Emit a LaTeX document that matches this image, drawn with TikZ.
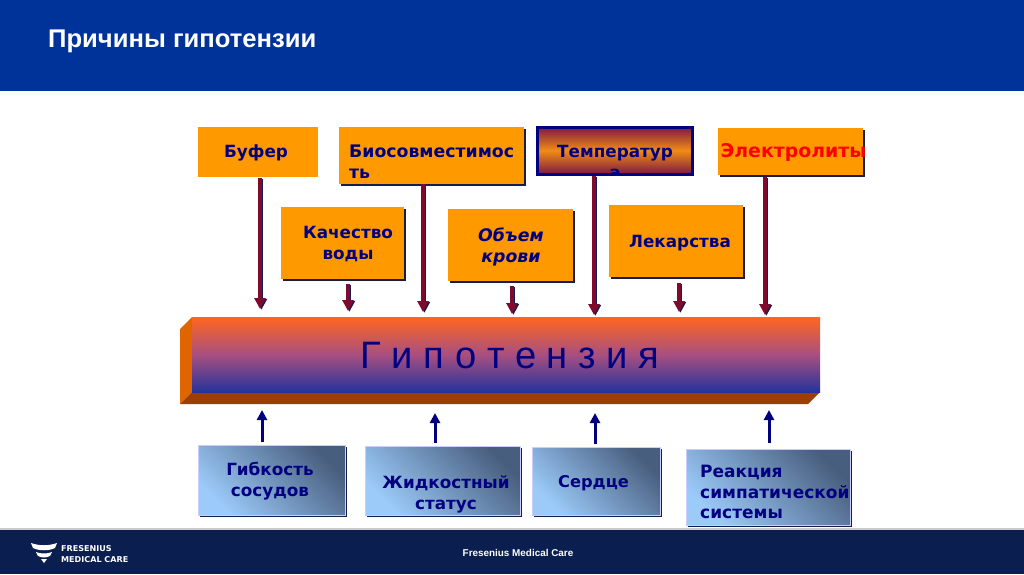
\documentclass[tikz,border=0pt]{standalone}
\usepackage{fontspec}
\setmainfont{Liberation Sans}
\newfontfamily\boxfont{DejaVu Sans}
\usetikzlibrary{arrows.meta,shadows}
\definecolor{hdr}{HTML}{003399}
\definecolor{ftr}{HTML}{0A1F4F}
\definecolor{orng}{HTML}{FF9900}
\definecolor{navy}{HTML}{000080}
\definecolor{shd}{HTML}{141E50}
\definecolor{crim}{HTML}{800A2E}
\definecolor{blue1}{HTML}{9CCBFA}
\definecolor{blue2}{HTML}{485E7E}
\definecolor{sideface}{HTML}{E06400}
\definecolor{lowface}{HTML}{994000}
\definecolor{bartop}{HTML}{FF6620}
\definecolor{barmid}{HTML}{A84F80}
\definecolor{barlow}{HTML}{24339C}
\definecolor{temptop}{HTML}{7D1941}
\definecolor{tempmid}{HTML}{F08C14}
\tikzset{
  x=1pt,y=-1pt,
  boxbase/.style={anchor=north west,inner sep=0pt,outer sep=0pt,draw=none},
  obox/.style={boxbase,fill=orng},
  oboxs/.style={obox,general shadow={shadow xshift=2pt,shadow yshift=-2pt,fill=shd}},
  bbox/.style={boxbase,draw=white!80!blue,line width=.6pt,left color=blue1,right color=blue2,shading angle=135,general shadow={shadow xshift=2pt,shadow yshift=-2pt,fill=shd}},
  lbl/.style={font=\boxfont\bfseries\fontsize{16.8}{21}\selectfont,text=navy,align=center,inner sep=0pt},
  lbll/.style={lbl,align=left,anchor=north west},
  redarrow/.style={line width=3.8pt,draw=crim,-{Triangle[width=11pt,length=11pt]},
     preaction={draw=shd,line width=3.8pt,-{Triangle[width=11pt,length=11pt]},transform canvas={xshift=1.4pt,yshift=-.8pt}}},
  bluearrow/.style={line width=3pt,draw=navy,-{Triangle[width=10pt,length=10pt]}},
}
\begin{document}
\begin{tikzpicture}
\useasboundingbox (0,0) rectangle (1024,574);
\fill[white] (0,0) rectangle (1024,574);
% header and footer
\node[boxbase,fill=hdr,minimum width=1024pt,minimum height=91pt] (header) at (0,0) {};
\node[anchor=west,inner sep=0pt,text=white,font=\bfseries\fontsize{25.6}{28}\selectfont] (title) at (48,41) {Причины гипотензии};
\fill[black!20] (0,528) rectangle (1024,530);
\node[boxbase,fill=ftr,minimum width=1024pt,minimum height=44pt] (footer) at (0,530) {};
\node[inner sep=0pt,text=white,font=\bfseries\fontsize{9.9}{11}\selectfont] (ftext) at (518,553) {Fresenius Medical Care};
% logo
\fill[white] (31,543) .. controls (40,546) and (48,546) .. (57,543) -- (55,548) .. controls (49,551) and (39,551) .. (33,548) -- cycle;
\fill[white] (36,552) .. controls (41,554) and (47,554) .. (52,552) -- (50,556) .. controls (46,558) and (42,558) .. (38,556) -- cycle;
\fill[white] (41,559) -- (47,559) -- (44,563) -- cycle;
\node[anchor=west,inner sep=0pt,text=white,font=\boxfont\bfseries\fontsize{8.05}{9}\selectfont] (lg1) at (61,549) {FRESENIUS};
\node[anchor=west,inner sep=0pt,text=white,font=\boxfont\bfseries\fontsize{8.05}{9}\selectfont] (lg2) at (61,559.5) {MEDICAL CARE};
% main bar
\fill[sideface] (192,317) -- (180,329) -- (180,404) -- (192,392) -- cycle;
\fill[lowface] (192,392) -- (820,392) -- (808,404) -- (180,404) -- cycle;
\node[boxbase,minimum width=628pt,minimum height=75pt,top color=bartop,bottom color=barlow,middle color=barmid] (bar) at (192,317) {};
\node[inner sep=0pt,text=navy,font=\fontsize{38.2}{42}\selectfont] (bartext) at (510,355.5) {Г и п о т е н з и я};
% top boxes
\node[obox,minimum width=120pt,minimum height=50pt] (buf) at (198,127) {};
\node[lbl] (buft) at (256,153) {Буфер};
\node[oboxs,minimum width=185pt,minimum height=57pt] (bio) at (339,127) {};
\node[lbll,font=\boxfont\bfseries\fontsize{17.3}{21}\selectfont] (biot) at (349,144.5) {Биосовместимос\\ть};
\node[boxbase,draw=navy,line width=3pt,minimum width=155pt,minimum height=47pt,
  top color=temptop,bottom color=temptop,middle color=tempmid,
  general shadow={shadow xshift=1pt,shadow yshift=-1pt,fill=navy}] (temp) at (537,127) {};
\begin{scope}
\clip (temp.north west) rectangle (temp.south east);
\node[lbl] (tempt) at (615,161.5) {Температур\\а};
\end{scope}
\node[oboxs,minimum width=145pt,minimum height=47pt] (ele) at (718,128) {};
\node[lbl,text=red,font=\boxfont\bfseries\fontsize{18.9}{21}\selectfont] (elet) at (793.5,152) {Электролиты};
\node[oboxs,minimum width=123pt,minimum height=72pt] (qua) at (281,207) {};
\node[lbl] (quat) at (348,244) {Качество\\воды};
\node[oboxs,minimum width=125pt,minimum height=72pt] (vol) at (448,209) {};
\node[lbl,font=\boxfont\bfseries\itshape\fontsize{17.3}{21}\selectfont] (volt) at (511,246.5) {Объем\\крови};
\node[oboxs,minimum width=134pt,minimum height=72pt] (lek) at (609,205) {};
\node[lbl] (lekt) at (680,243) {Лекарства};
% bottom boxes
\node[bbox,minimum width=147pt,minimum height=70pt] (fle) at (198,445) {};
\node[lbl] (flet) at (270,481) {Гибкость\\сосудов};
\node[bbox,minimum width=155pt,minimum height=69pt] (liq) at (365,446) {};
\node[lbl] (liqt) at (446,494.5) {Жидкостный\\статус};
\node[bbox,minimum width=128pt,minimum height=68pt] (hea) at (532,447) {};
\node[lbl,font=\boxfont\bfseries\fontsize{16.2}{21}\selectfont] (heat) at (593.5,483) {Сердце};
\node[bbox,minimum width=164pt,minimum height=76pt] (sym) at (686,449) {};
\node[lbll,font=\boxfont\bfseries\fontsize{17}{20.5}\selectfont] (symt) at (700,465) {Реакция\\симпатической\\системы};
% arrow ends
\coordinate (e1) at (260,309);
\coordinate (e2) at (348,311);
\coordinate (e3) at (423,312);
\coordinate (e4) at (512,314);
\coordinate (e5) at (594,315);
\coordinate (e6) at (679,312);
\coordinate (e7) at (765,315);
\coordinate (u1) at (262,410);
\coordinate (u2) at (435,413);
\coordinate (u3) at (595,413);
\coordinate (u4) at (769,410);
\draw[redarrow,shorten <=1pt] (buf.south -| e1) -- (e1);
\draw[redarrow,shorten <=5pt] (qua.south -| e2) -- (e2);
\draw[redarrow,shorten <=0pt] (bio.south -| e3) -- (e3);
\draw[redarrow,shorten <=5pt] (vol.south -| e4) -- (e4);
\draw[redarrow,shorten <=2pt] (temp.south -| e5) -- (e5);
\draw[redarrow,shorten <=6pt] (lek.south -| e6) -- (e6);
\draw[redarrow,shorten <=2pt] (ele.south -| e7) -- (e7);
\draw[bluearrow,shorten <=3pt] (fle.north -| u1) -- (u1);
\draw[bluearrow,shorten <=3pt] (liq.north -| u2) -- (u2);
\draw[bluearrow,shorten <=3pt] (hea.north -| u3) -- (u3);
\draw[bluearrow,shorten <=6pt] (sym.north -| u4) -- (u4);
\end{tikzpicture}
\end{document}
